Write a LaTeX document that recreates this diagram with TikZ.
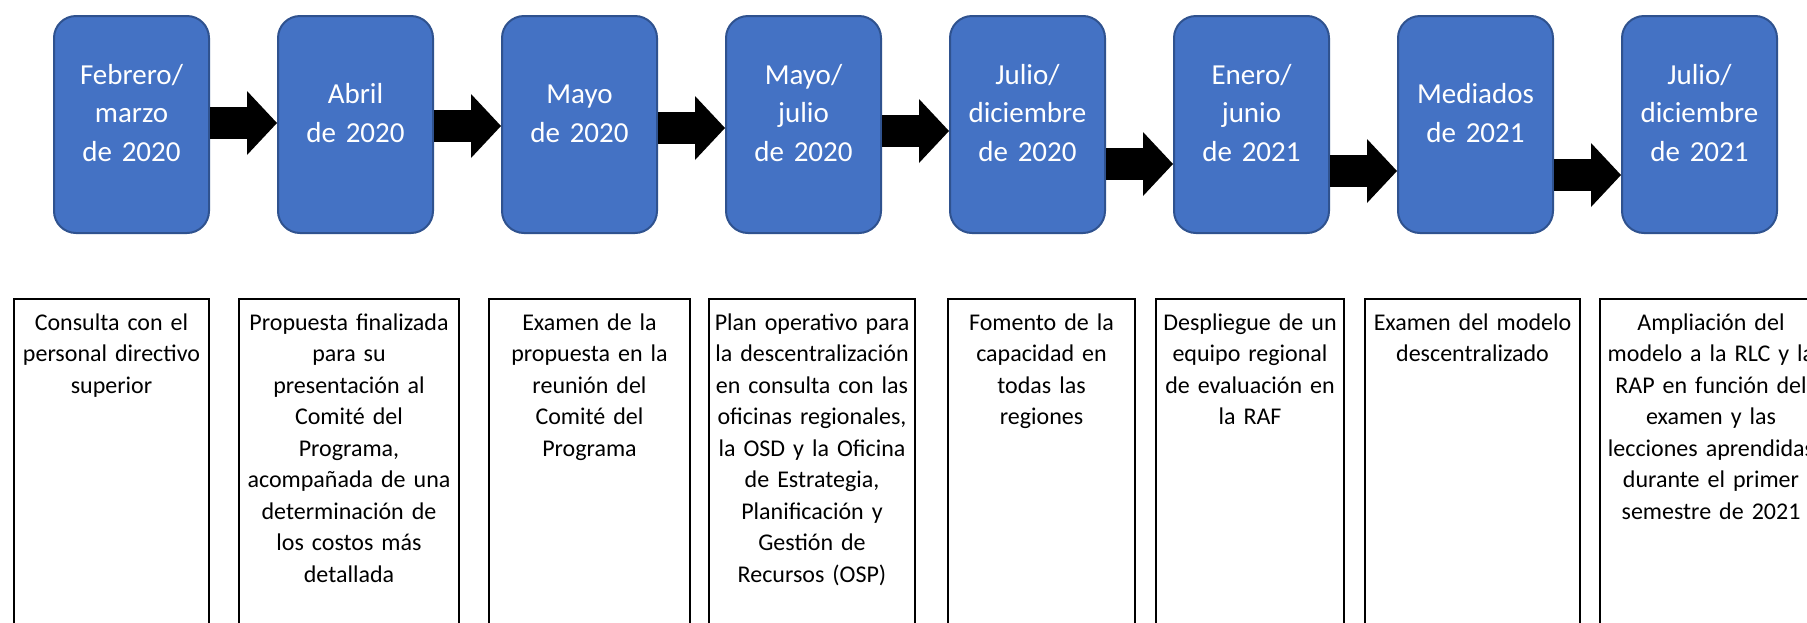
\documentclass[tikz,border=0pt]{standalone}
\usepackage{fontspec}
\setmainfont{Carlito}
\usetikzlibrary{positioning}
\usetikzlibrary{arrows.meta}
\definecolor{boxblue}{HTML}{4472C4}
\definecolor{lineblue}{HTML}{2F528F}
\tikzset{
    mynodeb/.style = {rectangle, rounded corners=22pt, line width=2pt, draw=lineblue, fill=boxblue, text=white, align=center, text width=140pt, inner sep=4pt, minimum width=155pt, minimum height=217pt, font=\fontsize{29}{38.5}\selectfont, text height=21pt, text depth=102pt}, % three lines
    mynodebs/.style = {mynodeb, text depth=63pt}, % two lines
    mynodew/.style = {rectangle, line width=1.5pt, draw=black, fill=white, text=black, align=center, anchor=north, inner xsep=2pt, inner ysep=13.5pt, font=\fontsize{24}{31.5}\selectfont, text height=18pt, text depth=340pt},
    edgea/.style = {-{Triangle[length=30pt,width=64pt,line width=0pt]}, line width=32pt, black},
}

\begin{document}
\begin{tikzpicture}[x=1pt, y=-1pt]
  \useasboundingbox (0,0) rectangle (1807,622);
  \fill[white] (0,0) rectangle (1807,622);
  \clip (0,0) rectangle (1807,622);

  \node[mynodeb] (b1) at (131.5,124.5) {Febrero/\\marzo\\de 2020};
  \node[mynodebs, right=67pt of b1] (b2) {Abril\\de 2020};
  \node[mynodebs, right=67pt of b2] (b3) {Mayo\\de 2020};
  \node[mynodeb, right=67pt of b3] (b4) {Mayo/\\julio\\de 2020};
  \node[mynodeb, right=67pt of b4] (b5) {Julio/\\diciembre\\de 2020};
  \node[mynodeb, right=67pt of b5] (b6) {Enero/\\junio\\de 2021};
  \node[mynodebs, right=67pt of b6] (b7) {Mediados\\de 2021};
  \node[mynodeb, right=67pt of b7] (b8) {Julio/\\diciembre\\de 2021};

  \draw[edgea] ([yshift=1.5pt]b1.east) -- ([yshift=1.5pt]b2.west);
  \draw[edgea] ([yshift=-1.5pt]b2.east) -- ([yshift=-1.5pt]b3.west);
  \draw[edgea] ([yshift=-3.5pt]b3.east) -- ([yshift=-3.5pt]b4.west);
  \draw[edgea] ([yshift=-6.5pt]b4.east) -- ([yshift=-6.5pt]b5.west);
  \draw[edgea] ([yshift=-39.5pt]b5.east) -- ([yshift=-39.5pt]b6.west);
  \draw[edgea] ([yshift=-46.5pt]b6.east) -- ([yshift=-46.5pt]b7.west);
  \draw[edgea] ([yshift=-50.5pt]b7.east) -- ([yshift=-50.5pt]b8.west);

  % activities
  \node[mynodew, text width=191pt] (t1) at (111.5,298) {Consulta con el\\personal directivo\\superior};
  \node[mynodew, text width=216pt] (t2) at (349,298) {Propuesta finalizada\\para su\\presentación al\\Comité del\\Programa,\\acompañada de una\\determinación de\\los costos más\\detallada};
  \node[mynodew, text width=197pt] (t3) at (589.5,298) {Examen de la\\propuesta en la\\reunión del\\Comité del\\Programa};
  \node[mynodew, text width=202pt] (t4) at (812,298) {Plan operativo para\\la descentralización\\en consulta con las\\oficinas regionales,\\la OSD y la Oficina\\de Estrategia,\\Planificación y\\Gestión de\\Recursos (OSP)};
  \node[mynodew, text width=183pt] (t5) at (1041.5,298) {Fomento de la\\capacidad en\\todas las\\regiones};
  \node[mynodew, text width=184pt] (t6) at (1250,298) {Despliegue de un\\equipo regional\\de evaluación en\\la RAF};
  \node[mynodew, text width=211pt] (t7) at (1472.5,298) {Examen del modelo\\descentralizado};
  \node[mynodew, text width=218pt] (t8) at (1711,298) {Ampliación del\\modelo a la RLC y la\\RAP en función del\\examen y las\\lecciones aprendidas\\durante el primer\\semestre de 2021};

\end{tikzpicture}
\end{document}
